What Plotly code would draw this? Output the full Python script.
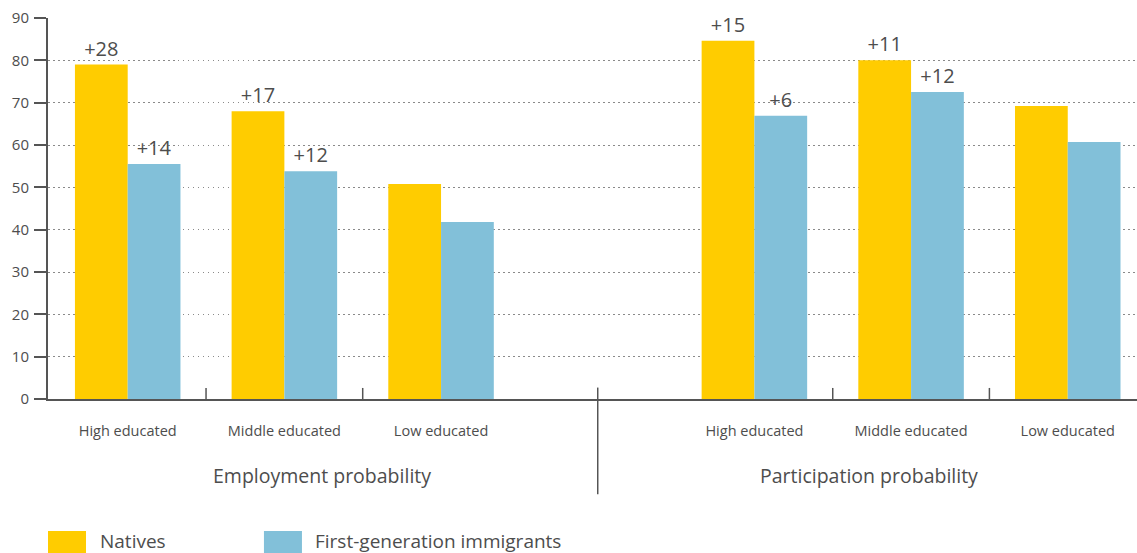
import plotly.graph_objects as go

# Categories and values (percent)
education = ["High educated", "Middle educated", "Low educated"]
measures = ["Employment probability", "Participation probability"]

natives_employment = [79, 68, 50.8]
immigrants_employment = [55.5, 53.8, 41.8]
natives_participation = [84.6, 80, 69.2]
immigrants_participation = [66.9, 72.5, 60.7]

natives_labels = ["+28", "+17", "", "+15", "+11", ""]
immigrants_labels = ["+14", "+12", "", "+6", "+12", ""]

series_names = ["Natives", "First-generation immigrants"]
y_ticks = [0, 10, 20, 30, 40, 50, 60, 70, 80, 90]

YELLOW = "#FFCC00"
BLUE = "#82C0D9"
TEXT = "#4d4d4d"
AXIS = "#555555"
FONT = "Open Sans"

# Two panels of three groups, with one empty slot between them
slots = [0, 1, 2, 4, 5, 6]
tick_text = education + education

fig = go.Figure()
fig.add_trace(go.Bar(
    x=slots, y=natives_employment + natives_participation,
    name=series_names[0], marker=dict(color=YELLOW, line=dict(width=0)),
    text=natives_labels, textposition="outside", cliponaxis=False,
    constraintext="none",
    textfont=dict(family=FONT, size=20, color=TEXT), showlegend=False,
))
fig.add_trace(go.Bar(
    x=slots, y=immigrants_employment + immigrants_participation,
    name=series_names[1], marker=dict(color=BLUE, line=dict(width=0)),
    text=immigrants_labels, textposition="outside", cliponaxis=False,
    constraintext="none",
    textfont=dict(family=FONT, size=20, color=TEXT), showlegend=False,
))

shapes = []
# separator between the two panels
shapes.append(dict(type="line", xref="x", yref="paper", x0=3, x1=3,
                   y0=0.03, y1=-0.25, line=dict(color=AXIS, width=1.5)))
# short ticks between education groups
for xv in [0.5, 1.5, 4.5, 5.5]:
    shapes.append(dict(type="line", xref="x", yref="paper", x0=xv, x1=xv,
                       y0=0, y1=0.029, line=dict(color=AXIS, width=1.5)))

# legend swatches
legend_x = [0.0, 0.1983]
legend_colors = [YELLOW, BLUE]
for lx, col in zip(legend_x, legend_colors):
    shapes.append(dict(type="rect", xref="paper", yref="paper",
                       x0=lx, x1=lx + 0.0349, y0=-0.42, y1=-0.3465,
                       fillcolor=col, line=dict(width=0)))

annotations = []
for name, lx in zip(series_names, legend_x):
    annotations.append(dict(text=name, xref="paper", yref="paper",
                            x=lx + 0.0455, y=-0.3727, xanchor="left",
                            yanchor="middle", showarrow=False,
                            font=dict(family=FONT, size=19, color=TEXT)))
for title, px in zip(measures, [0.2516, 0.754]):
    annotations.append(dict(text=title, xref="paper", yref="paper",
                            x=px, y=-0.1995, xanchor="center",
                            yanchor="middle", showarrow=False,
                            font=dict(family=FONT, size=19.5, color=TEXT)))

fig.update_layout(
    width=1137, height=553,
    margin=dict(l=48, r=0, t=18, b=154),
    paper_bgcolor="white", plot_bgcolor="white",
    barmode="group", bargap=0.3265, bargroupgap=0,
    font=dict(family=FONT, color=TEXT),
    shapes=shapes, annotations=annotations,
    xaxis=dict(
        range=[-0.5087, 6.442], tickmode="array", tickvals=slots,
        ticktext=tick_text, ticks="", showgrid=False, zeroline=False,
        showline=True, linecolor=AXIS, linewidth=2,
        tickfont=dict(family=FONT, size=14.5, color=TEXT),
        ticklabelstandoff=18,
    ),
    yaxis=dict(
        range=[0, 90], tickmode="array", tickvals=y_ticks,
        ticks="outside", ticklen=12, tickwidth=2, tickcolor=AXIS,
        showline=True, linecolor=AXIS, linewidth=2,
        showgrid=True, gridcolor="#8a8a8a", gridwidth=1.2,
        griddash="1.5px,3.5px", zeroline=False,
        tickfont=dict(family=FONT, size=15, color=TEXT),
        ticklabelstandoff=2,
    ),
)

fig.write_html("out.html")
